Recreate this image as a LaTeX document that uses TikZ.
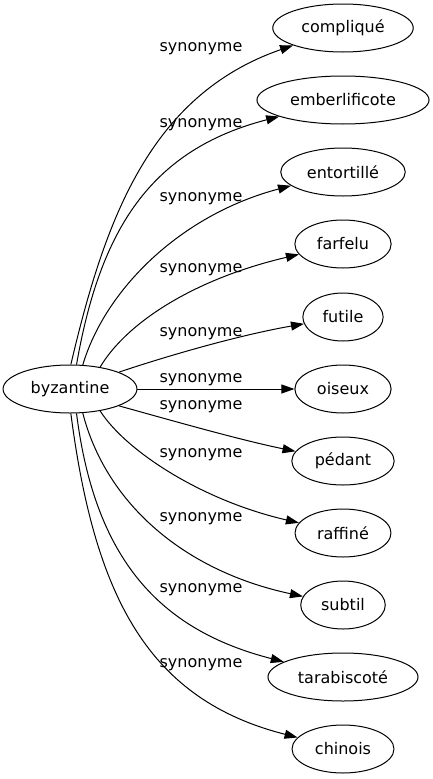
\documentclass[tikz,border=0pt]{standalone}
\usepackage{fontspec}
\setmainfont{DejaVu Sans}
\usepackage{tikz}
\usetikzlibrary{shapes.geometric}
\usetikzlibrary{arrows.meta}
\tikzstyle{wordnode} = [draw=black, ellipse, line width=1pt,
inner xsep=8pt, inner ysep=2pt, minimum height=48pt,
font=\fontsize{16}{19}\selectfont]
\tikzstyle{synlabel} = [inner sep=0pt, font=\fontsize{16}{19}\selectfont]
\tikzstyle{synarrow} = [draw=black, line width=1pt,
-{Triangle[length=13pt,width=9pt]}]

\begin{document}
\begin{tikzpicture}[x=1pt, y=1pt]
        \useasboundingbox (0,0) rectangle (432,-779);
        % mot de depart
        \node [wordnode] (byz) at (70,-389) {byzantine};
        % synonymes
        \node [wordnode] (cmp) at (343,-28) {compliqué};
        \node [wordnode] (emb) at (343,-100) {emberlificote};
        \node [wordnode] (ent) at (343,-172) {entortillé};
        \node [wordnode] (far) at (343,-244) {farfelu};
        \node [wordnode] (fut) at (343,-317) {futile};
        \node [wordnode] (ois) at (343,-389) {oiseux};
        \node [wordnode] (ped) at (343,-461) {pédant};
        \node [wordnode] (raf) at (343,-533) {raffiné};
        \node [wordnode] (sub) at (343,-605) {subtil};
        \node [wordnode] (tar) at (343,-677) {tarabiscoté};
        \node [wordnode] (chi) at (343,-749) {chinois};
        % liens
        \draw [synarrow] (byz.88) .. controls (105,-219) and (150,-95) .. (cmp)
            node [synlabel] at (201,-49) {synonyme};
        \draw [synarrow] (byz.75) .. controls (100,-230) and (150,-150) .. (emb)
            node [synlabel] at (201,-125) {synonyme};
        \draw [synarrow] (byz.62) .. controls (105,-290) and (180,-215) .. (ent)
            node [synlabel] at (201,-199) {synonyme};
        \draw [synarrow] (byz.36) .. controls (125,-325) and (190,-280) .. (far)
            node [synlabel] at (201,-270) {synonyme};
        \draw [synarrow] (byz.19) .. controls (170,-355) and (240,-335) .. (fut)
            node [synlabel] at (201,-334) {synonyme};
        \draw [synarrow] (byz) -- (ois)
            node [synlabel] at (201,-380) {synonyme};
        \draw [synarrow] (byz.-19) .. controls (170,-420) and (240,-440) .. (ped)
            node [synlabel] at (201,-407) {synonyme};
        \draw [synarrow] (byz.-36) .. controls (125,-450) and (200,-500) .. (raf)
            node [synlabel] at (201,-455) {synonyme};
        \draw [synarrow] (byz.-62) .. controls (105,-500) and (180,-570) .. (sub)
            node [synlabel] at (201,-519) {synonyme};
        \draw [synarrow] (byz.-75) .. controls (95,-560) and (160,-630) .. (tar)
            node [synlabel] at (201,-590) {synonyme};
        \draw [synarrow] (byz.-88) .. controls (95,-600) and (150,-700) .. (chi)
            node [synlabel] at (201,-665) {synonyme};
\end{tikzpicture}
\end{document}
